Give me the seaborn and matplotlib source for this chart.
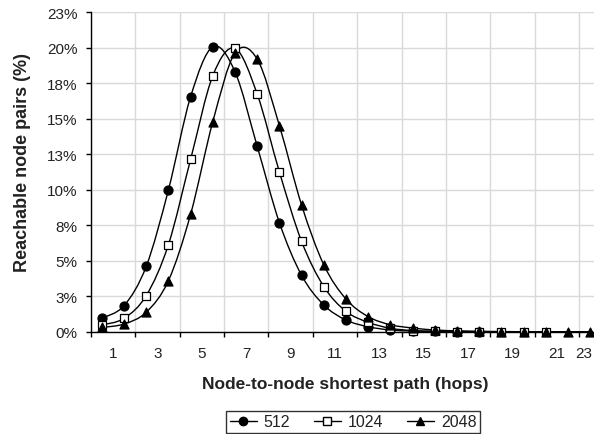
import numpy as np
import pandas as pd
import matplotlib
matplotlib.use("Agg")
import matplotlib.pyplot as plt
from matplotlib.path import Path
from matplotlib.patches import PathPatch
from matplotlib.lines import Line2D
from matplotlib.ticker import FixedLocator, FuncFormatter
import seaborn as sns

# reachable node pairs (%) per shortest path length, one series per network size
hops_512 = list(range(1, 19))
pct_512 = [0.94, 1.83, 4.6, 9.98, 16.55, 20.07, 18.31, 13.06, 7.68, 3.97, 1.88,
           0.82, 0.35, 0.12, 0.05, 0.02, 0.01, 0.0]
hops_1024 = list(range(1, 22))
pct_1024 = [0.47, 0.94, 2.54, 6.13, 12.14, 18.03, 19.96, 16.74, 11.25, 6.36, 3.18,
            1.43, 0.66, 0.24, 0.08, 0.03, 0.01, 0.0, 0.0, 0.0, 0.0]
hops_2048 = list(range(1, 24))
pct_2048 = [0.3, 0.54, 1.37, 3.59, 8.27, 14.79, 19.63, 19.2, 14.51, 8.92, 4.71,
            2.3, 1.06, 0.49, 0.26, 0.12, 0.06, 0.03, 0.01, 0.0, 0.0, 0.0, 0.0]
xtick_labels = ["1", "3", "5", "7", "9", "11", "13", "15", "17", "19", "21", "23"]

series = [("512", hops_512, pct_512, "o", "black"),
          ("1024", hops_1024, pct_1024, "s", "white"),
          ("2048", hops_2048, pct_2048, "^", "black")]

sns.set_theme(style="white")
plt.rcParams["font.family"] = ["Liberation Sans", "DejaVu Sans"]

fig = plt.figure(figsize=(5.94, 4.35), dpi=100)
W, H = 594, 435
ax = fig.add_axes([90.7 / W, (H - 332.7) / H, 510.6 / W, (332.7 - 13.3) / H])


def smooth_path(xs, ys):
    # excel-like smoothed line: bezier through the points
    x = np.asarray(xs, float)
    y = np.asarray(ys, float)
    verts = [(x[0], y[0])]
    codes = [Path.MOVETO]
    n = len(x)
    for i in range(n - 1):
        i0 = max(i - 1, 0)
        i3 = min(i + 2, n - 1)
        c1 = (x[i] + (x[i + 1] - x[i0]) / 6, y[i] + (y[i + 1] - y[i0]) / 6)
        c2 = (x[i + 1] - (x[i3] - x[i]) / 6, y[i + 1] - (y[i3] - y[i]) / 6)
        verts += [c1, c2, (x[i + 1], y[i + 1])]
        codes += [Path.CURVE4] * 3
    return Path(verts, codes)


handles = []
for name, hx, hy, mk, fc in series:
    ax.add_patch(PathPatch(smooth_path(hx, hy), fill=False, edgecolor="black",
                           lw=1.0, zorder=3, clip_on=False))
    df = pd.DataFrame({"hops": hx, "pct": hy})
    sns.scatterplot(data=df, x="hops", y="pct", ax=ax, marker=mk, color=fc,
                    edgecolor="black", linewidth=0.9, s=42 if mk != "s" else 34,
                    zorder=4, clip_on=False, legend=False)
    handles.append(Line2D([0], [0], color="black", lw=1.0, marker=mk,
                          markerfacecolor=fc, markeredgecolor="black",
                          markersize=6 if mk != "s" else 5.5, label=name))

ax.set_xlim(0.5, 23.5)
ax.set_ylim(0, 22.5)

# tick marks between every second category, labels centred on each pair
label_pos = np.arange(1.5, 24, 2)
label_pos[-1] = 22.72  # last label pulled in so it stays inside the picture
ax.xaxis.set_major_locator(FixedLocator(np.arange(0.5, 23, 2)))
ax.xaxis.set_minor_locator(FixedLocator(label_pos))
ax.xaxis.set_major_formatter(FuncFormatter(lambda v, p: ""))
ax.xaxis.set_minor_formatter(FuncFormatter(lambda v, p: xtick_labels[p]))
ax.set_yticks(np.arange(0, 22.6, 2.5))
ax.yaxis.set_major_formatter(FuncFormatter(lambda v, p: f"{int(np.floor(v + 0.5))}%"))

ax.grid(True, which="major", color="#d9d9d9", lw=1.0, zorder=0)
ax.set_axisbelow(True)
for s in ["top", "right"]:
    ax.spines[s].set_visible(False)
for s in ["left", "bottom"]:
    ax.spines[s].set_color("black")
    ax.spines[s].set_linewidth(1.0)
    ax.spines[s].set_zorder(2.5)

ax.tick_params(axis="x", which="major", direction="out", length=3.6, width=1,
               color="black", bottom=True)
ax.tick_params(axis="x", which="minor", length=0, labelsize=11, pad=10,
               labelcolor="#222222")
ax.tick_params(axis="y", which="major", direction="out", length=3.6, width=1,
               color="black", left=True, labelsize=11, pad=5.8, labelcolor="#222222")

ax.set_xlabel("")
ax.set_ylabel("")
fig.text(345 / W, 1 - 385 / H, "Node-to-node shortest path (hops)",
         ha="center", va="center", fontsize=12.5, fontweight="bold", color="#222222")
fig.text(23 / W, 1 - 163 / H, "Reachable node pairs (%)", rotation=90,
         ha="center", va="center", fontsize=13, fontweight="bold", color="#222222")

leg = fig.legend(handles=handles, loc="center", ncol=3,
                 bbox_to_anchor=(353 / W, 1 - 423 / H), frameon=True,
                 fancybox=False, edgecolor="black", fontsize=11.5,
                 handlelength=1.75, handletextpad=0.4, columnspacing=1.45,
                 borderpad=0.2, borderaxespad=0)
leg.get_frame().set_linewidth(1.0)
for t in leg.get_texts():
    t.set_color("#222222")

fig.savefig("out.png", dpi=100)
